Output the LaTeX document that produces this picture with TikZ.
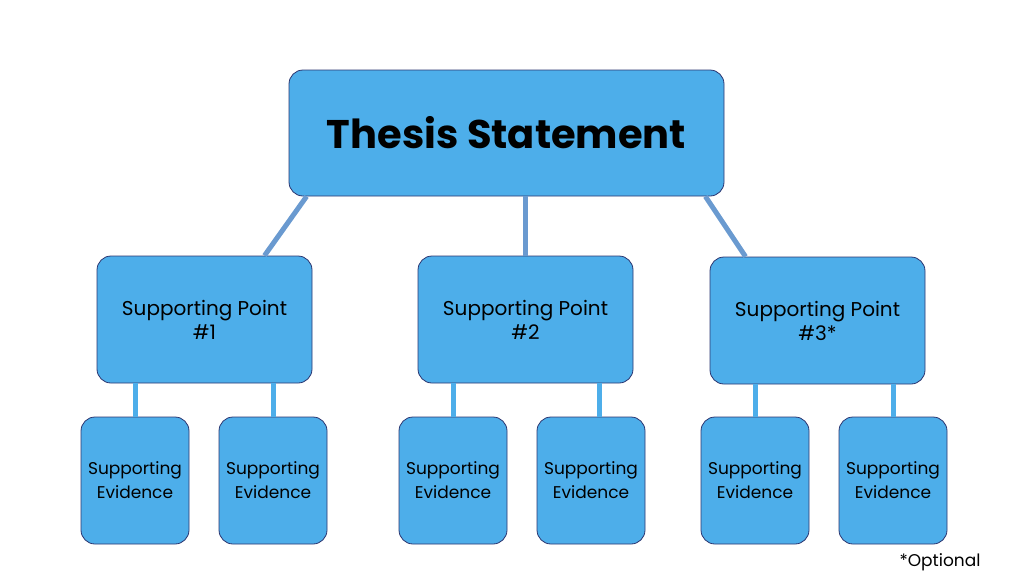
\documentclass[tikz,border=0pt]{standalone}
\usepackage{fontspec}
\setmainfont{Poppins}
\usetikzlibrary{calc}
\definecolor{boxfill}{HTML}{4DAEEA}
\definecolor{boxline}{HTML}{2B3570}
\definecolor{conn}{HTML}{6A9AD0}
\tikzset{
  box/.style={draw=boxline, line width=0.8pt, fill=boxfill, rounded corners=14pt, align=center, inner sep=0pt, text=black},
  sp/.style={box, minimum width=215pt, minimum height=127pt, font=\fontsize{20}{24}\selectfont},
  ev/.style={box, minimum width=108pt, minimum height=127pt, font=\fontsize{17}{24}\selectfont},
  thick conn/.style={draw=conn, line width=5pt},
  thin conn/.style={draw=boxfill, line width=5pt}
}
\begin{document}
\begin{tikzpicture}[x=1pt,y=-1pt]
\useasboundingbox (0,0) rectangle (1024,582);
\node[box, minimum width=435pt, minimum height=126pt, font=\fontsize{40}{46}\selectfont\bfseries] (T) at (506.5,133) {Thesis Statement};
\node[sp] (S1) at (204.5,319.5) {Supporting Point\\\#1};
\node[sp] (S2) at (525.5,319.5) {Supporting Point\\\#2};
\node[sp] (S3) at (817.5,320.5) {Supporting Point\\\#3*};
\node[ev] (E1) at (135,480.5) {Supporting\\Evidence};
\node[ev] (E2) at (273,480.5) {Supporting\\Evidence};
\node[ev] (E3) at (453,480.5) {Supporting\\Evidence};
\node[ev] (E4) at (591,480.5) {Supporting\\Evidence};
\node[ev] (E5) at (755,480.5) {Supporting\\Evidence};
\node[ev] (E6) at (893,480.5) {Supporting\\Evidence};
\begin{scope}[on background layer/.style={}]
\end{scope}
\path[thick conn] ($(T.south west)+(18,0)$) -- ($(S1.north)+(60,0)$);
\path[thick conn] (T.south -| S2.north) -- (S2.north);
\path[thick conn] ($(T.south east)+(-19,0)$) -- ($(S3.north)+(-72,0)$);
\path[thin conn] (S1.south -| E1.north) -- (E1.north);
\path[thin conn] (S1.south -| E2.north) -- (E2.north);
\path[thin conn] (S2.south -| E3.north) -- (E3.north);
\path[thin conn] (S2.south -| 599,0) -- (E4.north -| 599,0);
\path[thin conn] (S3.south -| E5.north) -- (E5.north);
\path[thin conn] (S3.south -| E6.north) -- (E6.north);
\node[font=\fontsize{17}{20}\selectfont] (opt) at (940,562) {*Optional};
\end{tikzpicture}
\end{document}
